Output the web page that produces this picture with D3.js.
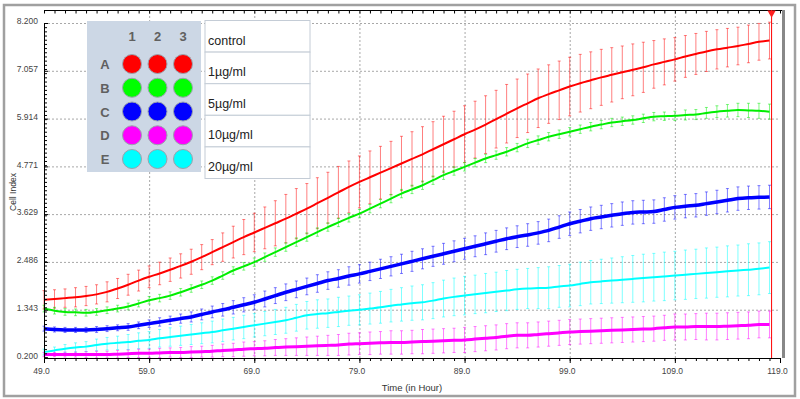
<!DOCTYPE html>
<html>
<head>
<meta charset="utf-8">
<script src="https://cdn.jsdelivr.net/npm/d3@7"></script>
<style>
  body { margin: 0; background: #fff; }
  text { font-family: "Liberation Sans", Arial, sans-serif; }
</style>
</head>
<body>
<svg id="chart" width="800" height="399"></svg>
<script>
let width = 800,
  height = 399

// time axis (hours) and readings, one value per hour
let hours = [49, 50, 51, 52, 53, 54, 55, 56, 57, 58,
  59, 60, 61, 62, 63, 64, 65, 66, 67, 68,
  69, 70, 71, 72, 73, 74, 75, 76, 77, 78,
  79, 80, 81, 82, 83, 84, 85, 86, 87, 88,
  89, 90, 91, 92, 93, 94, 95, 96, 97, 98,
  99, 100, 101, 102, 103, 104, 105, 106, 107, 108,
  109, 110, 111, 112, 113, 114, 115, 116, 117, 118]

let control = [1.58, 1.60, 1.62, 1.64, 1.67, 1.71, 1.77, 1.85, 1.94, 2.04,
  2.13, 2.21, 2.30, 2.39, 2.49, 2.60, 2.72, 2.84, 2.96, 3.08,
  3.19, 3.30, 3.41, 3.52, 3.64, 3.76, 3.89, 4.02, 4.15, 4.28,
  4.40, 4.51, 4.62, 4.73, 4.84, 4.95, 5.06, 5.18, 5.30, 5.42,
  5.54, 5.65, 5.77, 5.90, 6.03, 6.16, 6.28, 6.40, 6.50, 6.59,
  6.68, 6.76, 6.83, 6.90, 6.96, 7.02, 7.08, 7.14, 7.21, 7.27,
  7.33, 7.40, 7.46, 7.52, 7.57, 7.61, 7.65, 7.70, 7.75, 7.78]
let controlErr = [.22, .22, .22, .23, .23, .23, .24, .24, .25, .25,
  .26, .27, .28, .29, .30, .30, .30, .34, .38, .42,
  .46, .50, .54, .58, .60, .60, .61, .61, .62, .62,
  .62, .63, .63, .64, .65, .65, .66, .66, .67, .67,
  .68, .68, .69, .69, .70, .70, .70, .70, .70, .70,
  .70, .69, .68, .67, .65, .63, .62, .60, .57, .55,
  .52, .50, .49, .48, .47, .46, .45, .45, .44, .44]

let dose1 = [1.37, 1.32, 1.29, 1.28, 1.27, 1.29, 1.33, 1.37, 1.42, 1.49,
  1.57, 1.62, 1.68, 1.76, 1.85, 1.94, 2.04, 2.16, 2.28, 2.38,
  2.48, 2.60, 2.72, 2.84, 2.96, 3.08, 3.20, 3.32, 3.43, 3.54,
  3.64, 3.76, 3.88, 4.00, 4.12, 4.22, 4.32, 4.44, 4.56, 4.66,
  4.76, 4.86, 4.96, 5.04, 5.12, 5.22, 5.32, 5.40, 5.48, 5.54,
  5.60, 5.66, 5.72, 5.77, 5.82, 5.85, 5.88, 5.92, 5.96, 5.97,
  5.98, 6.00, 6.01, 6.05, 6.08, 6.10, 6.12, 6.11, 6.10, 6.08]
let dose1Err = [.08, .08, .08, .08, .08, .08, .08, .08, .08, .08,
  .09, .09, .09, .09, .09, .09, .09, .09, .09, .09,
  .10, .10, .10, .10, .10, .10, .10, .10, .10, .10,
  .10, .10, .10, .10, .10, .10, .10, .10, .10, .10,
  .10, .10, .10, .10, .10, .10, .10, .10, .10, .10,
  .10, .10, .10, .10, .10, .10, .10, .10, .10, .10,
  .11, .12, .12, .13, .14, .15, .16, .17, .18, .18]

let dose5 = [0.89, 0.87, 0.86, 0.86, 0.86, 0.87, 0.89, 0.91, 0.93, 0.97,
  1.01, 1.05, 1.09, 1.13, 1.17, 1.23, 1.29, 1.34, 1.40, 1.46,
  1.52, 1.60, 1.68, 1.76, 1.83, 1.90, 1.97, 2.04, 2.09, 2.15,
  2.20, 2.26, 2.32, 2.38, 2.44, 2.50, 2.56, 2.62, 2.68, 2.74,
  2.80, 2.86, 2.92, 2.98, 3.04, 3.09, 3.13, 3.18, 3.24, 3.32,
  3.40, 3.46, 3.52, 3.56, 3.60, 3.64, 3.67, 3.68, 3.69, 3.74,
  3.79, 3.82, 3.84, 3.88, 3.92, 3.96, 4.00, 4.02, 4.03, 4.04]
let dose5Err = [.06, .06, .06, .06, .06, .07, .07, .07, .08, .08,
  .09, .10, .10, .11, .12, .13, .14, .15, .16, .17,
  .18, .19, .19, .20, .20, .20, .21, .21, .21, .22,
  .22, .22, .23, .23, .23, .24, .24, .24, .25, .25,
  .25, .25, .26, .26, .26, .26, .27, .27, .27, .27,
  .28, .28, .28, .28, .28, .28, .28, .28, .28, .28,
  .28, .28, .28, .28, .28, .28, .28, .28, .28, .28]

let dose10 = [0.27, 0.27, 0.27, 0.27, 0.27, 0.27, 0.27, 0.28, 0.29, 0.30,
  0.30, 0.31, 0.32, 0.32, 0.33, 0.34, 0.35, 0.37, 0.38, 0.40,
  0.41, 0.42, 0.44, 0.45, 0.46, 0.47, 0.48, 0.49, 0.50, 0.52,
  0.53, 0.54, 0.55, 0.56, 0.56, 0.57, 0.58, 0.59, 0.60, 0.61,
  0.62, 0.64, 0.66, 0.68, 0.71, 0.73, 0.73, 0.75, 0.77, 0.79,
  0.81, 0.82, 0.83, 0.84, 0.85, 0.86, 0.87, 0.88, 0.89, 0.91,
  0.93, 0.93, 0.94, 0.94, 0.94, 0.95, 0.96, 0.97, 0.99, 0.99]
let dose10Err = [.05, .05, .06, .06, .07, .08, .08, .09, .09, .10,
  .10, .11, .11, .12, .13, .13, .14, .15, .16, .17,
  .17, .18, .19, .20, .21, .22, .23, .24, .25, .26,
  .26, .27, .27, .28, .28, .28, .29, .29, .29, .29,
  .30, .30, .30, .30, .30, .30, .30, .30, .30, .30,
  .30, .30, .30, .30, .30, .30, .30, .30, .30, .30,
  .31, .31, .31, .32, .32, .32, .32, .32, .32, .32]

let dose20 = [0.33, 0.37, 0.41, 0.44, 0.46, 0.50, 0.53, 0.55, 0.57, 0.60,
  0.62, 0.66, 0.69, 0.72, 0.75, 0.78, 0.81, 0.85, 0.89, 0.93,
  0.97, 1.01, 1.05, 1.09, 1.15, 1.21, 1.24, 1.26, 1.29, 1.32,
  1.34, 1.37, 1.40, 1.44, 1.47, 1.50, 1.52, 1.56, 1.61, 1.65,
  1.68, 1.71, 1.74, 1.77, 1.80, 1.83, 1.85, 1.86, 1.87, 1.90,
  1.92, 1.96, 2.00, 2.02, 2.04, 2.06, 2.08, 2.10, 2.12, 2.14,
  2.16, 2.18, 2.20, 2.22, 2.24, 2.26, 2.28, 2.30, 2.32, 2.35]
let dose20Err = [.07, .08, .10, .11, .12, .14, .15, .16, .18, .19,
  .20, .21, .22, .23, .24, .25, .26, .27, .27, .28,
  .28, .29, .30, .31, .32, .33, .34, .34, .35, .35,
  .36, .37, .38, .39, .40, .41, .42, .43, .44, .45,
  .46, .46, .47, .47, .48, .48, .48, .49, .50, .50,
  .51, .52, .52, .53, .54, .55, .56, .57, .57, .58,
  .58, .59, .59, .60, .60, .61, .61, .62, .62, .62]

let yTicks = [0.200, 1.343, 2.486, 3.629, 4.771, 5.914, 7.057, 8.200]
let xTicks = [49, 59, 69, 79, 89, 99, 109, 119]
let markerTime = 118.2

let legendLabels = ["control", "1µg/ml", "5µg/ml", "10µg/ml", "20µg/ml"]
let rowLetters = ["A", "B", "C", "D", "E"]
let colNumbers = ["1", "2", "3"]
let colors = ["#ff0000", "#00ff00", "#0000ff", "#ff00ff", "#00ffff"]

let series = [
  { name: "control", values: control, err: controlErr, color: "#ff0000", w: 2 },
  { name: "1µg/ml", values: dose1, err: dose1Err, color: "#00ee00", w: 2 },
  { name: "20µg/ml", values: dose20, err: dose20Err, color: "#00ffff", w: 2 },
  { name: "10µg/ml", values: dose10, err: dose10Err, color: "#ff00ff", w: 3 },
  { name: "5µg/ml", values: dose5, err: dose5Err, color: "#0000ff", w: 3.5 }
]

let scales = {
  x: d3.scaleLinear().domain([49, 119]).range([44, 780]),
  y: d3.scaleLinear().domain([0.2, 8.2]).range([357.5, 23])
}

let svg = d3.select("#chart")

// outer frame
svg.append("rect")
  .attr("x", 4).attr("y", 5)
  .attr("width", 791).attr("height", 391)
  .attr("fill", "#fff")
  .attr("stroke", "#a0a0a0")
  .attr("stroke-width", 2.5)

// gridlines
svg.append("g")
  .attr("transform", "translate(44,0)")
  .call(d3.axisLeft(scales.y).tickValues(yTicks.slice(1)).tickSize(-736).tickFormat(""))
  .call(g => g.select(".domain").remove())
  .selectAll("line")
  .attr("stroke", "#a8a8a8")
  .attr("stroke-dasharray", "2,2")

svg.append("g")
  .attr("transform", "translate(0,358)")
  .call(d3.axisBottom(scales.x).tickValues(xTicks.slice(1, -1)).tickSize(-348).tickFormat(""))
  .call(g => g.select(".domain").remove())
  .selectAll("line")
  .attr("stroke", "#a8a8a8")
  .attr("stroke-dasharray", "2,2")

// error bars first, lines on top
let plot = svg.append("g")

series.forEach(s => {
  let bars = plot.append("g")
    .attr("stroke", s.color)
    .attr("stroke-opacity", 0.5)
    .attr("stroke-width", 1)

  bars.selectAll("line.v")
    .data(hours).enter()
    .append("line")
    .attr("class", "v")
    .attr("x1", (d, i) => scales.x(d))
    .attr("x2", (d, i) => scales.x(d))
    .attr("y1", (d, i) => scales.y(s.values[i] - s.err[i]))
    .attr("y2", (d, i) => scales.y(s.values[i] + s.err[i]))

  ;[-1, 1].forEach(sign => {
    bars.selectAll("line.cap" + sign)
      .data(hours).enter()
      .append("line")
      .attr("x1", d => scales.x(d) - 1.5)
      .attr("x2", d => scales.x(d) + 1.5)
      .attr("y1", (d, i) => scales.y(s.values[i] + sign * s.err[i]))
      .attr("y2", (d, i) => scales.y(s.values[i] + sign * s.err[i]))
  })
})

series.forEach(s => {
  let line = d3.line()
    .x((d, i) => scales.x(d))
    .y((d, i) => scales.y(s.values[i]))
    .curve(d3.curveMonotoneX)

  plot.append("path")
    .datum(hours)
    .attr("d", line)
    .attr("fill", "none")
    .attr("stroke", s.color)
    .attr("stroke-width", s.w)
})

// axes
let yAxis = svg.append("g")
  .attr("transform", "translate(44,0)")
  .call(d3.axisLeft(scales.y).tickValues(yTicks).tickSize(-4).tickPadding(6)
    .tickFormat(d => d3.format(".3f")(d)))
yAxis.selectAll("text")
  .attr("dy", "0.1em")
  .attr("font-size", 8.5)
  .attr("fill", "#444")

svg.append("g")
  .attr("transform", "translate(44,0)")
  .call(d3.axisLeft(scales.y).ticks(70).tickSize(-3).tickFormat(""))
  .call(g => g.select(".domain").remove())

let xAxis = svg.append("g")
  .attr("transform", "translate(0,358)")
  .call(d3.axisBottom(scales.x).tickValues(xTicks).tickSize(5).tickPadding(5)
    .tickFormat(d3.format(".1f")))
xAxis.selectAll("text")
  .attr("dx", -3)
  .attr("font-size", 8.5)
  .attr("fill", "#444")

svg.append("g")
  .attr("transform", "translate(0,358)")
  .call(d3.axisBottom(scales.x).ticks(70).tickSize(3).tickFormat(""))
  .call(g => g.select(".domain").remove())

// top frame with hour ticks
svg.append("g")
  .attr("transform", "translate(0,10.5)")
  .call(d3.axisTop(scales.x).ticks(70).tickSize(-3).tickFormat(""))
  .call(g => g.select(".domain").attr("d", "M44,0H783"))

// right frame
svg.append("line")
  .attr("x1", 783.5).attr("x2", 783.5)
  .attr("y1", 10).attr("y2", 358)
  .attr("stroke", "#888")
  .attr("stroke-width", 3)

svg.append("text")
  .attr("x", 412).attr("y", 391)
  .attr("text-anchor", "middle")
  .attr("font-size", 9.5)
  .attr("fill", "#333")
  .text("Time (in Hour)")

svg.append("text")
  .attr("transform", "translate(16,192) rotate(-90)")
  .attr("text-anchor", "middle")
  .attr("font-size", 8.5)
  .attr("fill", "#333")
  .text("Cell Index")

// red time marker
svg.append("line")
  .attr("x1", scales.x(markerTime)).attr("x2", scales.x(markerTime))
  .attr("y1", 10).attr("y2", 358)
  .attr("stroke", "#ff0000")
  .attr("stroke-width", 1)
svg.append("path")
  .attr("d", d3.symbol(d3.symbolTriangle, 30))
  .attr("transform", `translate(${scales.x(markerTime)},13) rotate(180)`)
  .attr("fill", "#ff2020")

// plate legend
let plate = svg.append("g")
plate.append("rect")
  .attr("x", 87).attr("y", 21)
  .attr("width", 114).attr("height", 151)
  .attr("fill", "#ccd7e5")

let colX = d3.scalePoint().domain(colNumbers).range([132, 183])
let rowY = d3.scalePoint().domain(rowLetters).range([64, 159])

plate.selectAll("text.col")
  .data(colNumbers).enter()
  .append("text")
  .attr("x", d => colX(d))
  .attr("y", 41)
  .attr("text-anchor", "middle")
  .attr("font-size", 13)
  .attr("font-weight", "bold")
  .attr("fill", "#606060")
  .text(d => d)

plate.selectAll("text.row")
  .data(rowLetters).enter()
  .append("text")
  .attr("x", 105)
  .attr("y", d => rowY(d) + 5)
  .attr("text-anchor", "middle")
  .attr("font-size", 13)
  .attr("font-weight", "bold")
  .attr("fill", "#606060")
  .text(d => d)

rowLetters.forEach((r, i) => {
  plate.selectAll("circle.r" + r)
    .data(colNumbers).enter()
    .append("circle")
    .attr("cx", d => colX(d))
    .attr("cy", rowY(r))
    .attr("r", 9.5)
    .attr("fill", colors[i])
    .attr("stroke", "#9aa3ad")
    .attr("stroke-width", 1)
})

let rowH = 31.6
let table = svg.append("g")
table.selectAll("rect")
  .data(legendLabels).enter()
  .append("rect")
  .attr("x", 205)
  .attr("y", (d, i) => 20.5 + i * rowH)
  .attr("width", 105)
  .attr("height", rowH)
  .attr("fill", "#fff")
  .attr("stroke", "#c4ccd6")

table.selectAll("text")
  .data(legendLabels).enter()
  .append("text")
  .attr("x", 208)
  .attr("y", (d, i) => 20.5 + i * rowH + 24)
  .attr("font-family", "Carlito, Lato, sans-serif")
  .attr("font-size", 12.5)
  .attr("fill", "#222")
  .text(d => d)
</script>
</body>
</html>
